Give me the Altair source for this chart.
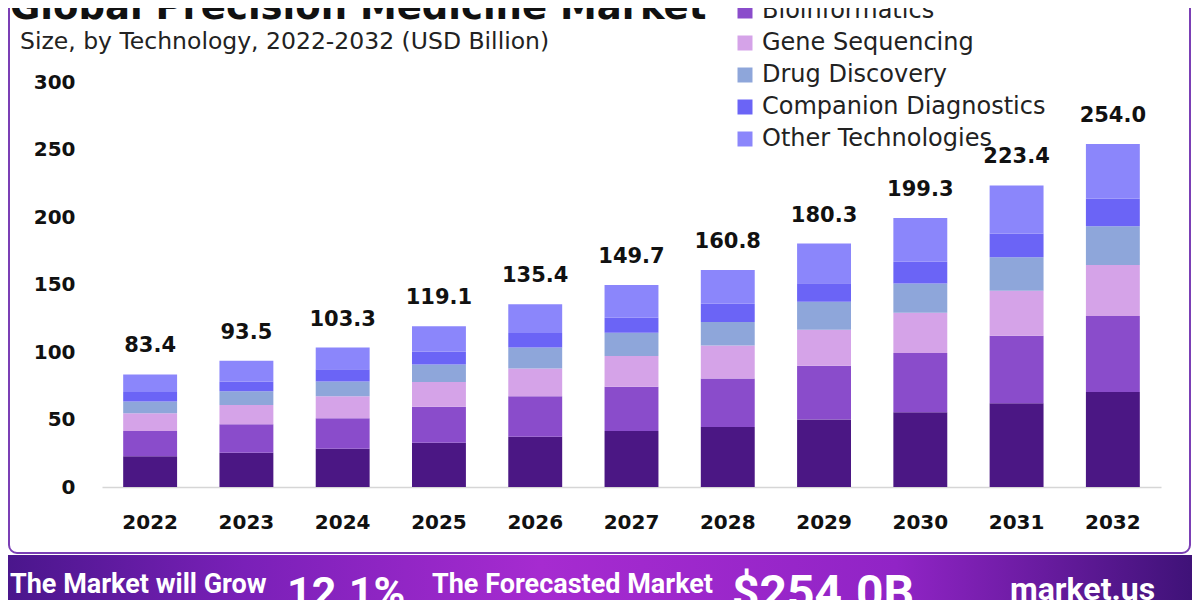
import altair as alt
import pandas as pd

# ---------------- data ----------------
years = ["2022", "2023", "2024", "2025", "2026", "2027", "2028", "2029", "2030", "2031", "2032"]
segments = ["Big Data Analytics", "Bioinformatics", "Gene Sequencing",
            "Drug Discovery", "Companion Diagnostics", "Other Technologies"]
colors = ["#4B1784", "#8A4CCB", "#D5A3E8", "#8EA6DA", "#6B64F6", "#8B86FB"]

big_data = [22.7, 25.3, 28.3, 32.8, 37.3, 41.4, 44.5, 50.0, 55.4, 62.1, 70.4]
bioinformatics = [18.8, 21.2, 22.7, 26.7, 30.0, 32.9, 35.8, 39.9, 43.8, 49.9, 56.3]
gene_sequencing = [13.1, 14.3, 16.3, 18.3, 20.5, 22.7, 24.5, 26.6, 29.8, 33.3, 37.8]
drug_discovery = [8.7, 10.2, 10.9, 13.0, 15.5, 17.2, 17.5, 20.7, 21.7, 24.9, 28.6]
companion_diag = [7.1, 7.2, 9.0, 9.5, 10.8, 11.2, 13.5, 13.7, 16.2, 17.5, 20.6]
other_tech = [13.0, 15.3, 16.1, 18.8, 21.3, 24.3, 25.0, 29.4, 32.4, 35.7, 40.3]
totals = [83.4, 93.5, 103.3, 119.1, 135.4, 149.7, 160.8, 180.3, 199.3, 223.4, 254.0]
y_ticks = [0, 50, 100, 150, 200, 250, 300]

title_text = "Global Precision Medicine Market"
subtitle_text = "Size, by Technology, 2022-2032 (USD Billion)"
banner_small = ["The Market will Grow", "The Forecasted Market"]
banner_big = ["12.1%", "$254.0B"]
brand = "market.us"

# ---------------- tables ----------------
series = [big_data, bioinformatics, gene_sequencing, drug_discovery, companion_diag, other_tech]
rows = []
for k, (name, vals) in enumerate(zip(segments, series)):
    for yr, v in zip(years, vals):
        rows.append({"year": yr, "segment": name, "value": v, "order": k})
df = pd.DataFrame(rows)
tot_df = pd.DataFrame({"year": years, "total": totals})
one = pd.DataFrame({"k": [0]})

NUM_FONT = "DejaVu Sans"
TXT_FONT = "DejaVu Sans"
BAN_FONT = "Roboto"

W, H = 1059, 405
SVG_W, SVG_H = 1184, 592
PAD_L, PAD_T = 94, 74

x_enc = alt.X("year:N", sort=years, title=None,
              scale=alt.Scale(paddingInner=0.44, paddingOuter=0.22),
              axis=alt.Axis(labelAngle=0, labelFont=NUM_FONT, labelFontSize=20,
                            labelFontWeight="bold", labelColor="#111111", ticks=False,
                            domainColor="#d6d6d6", domainWidth=1.5, labelPadding=25))

bars = alt.Chart(df).mark_bar().encode(
    x=x_enc,
    y=alt.Y("value:Q", stack="zero", title=None,
            scale=alt.Scale(domain=[0, 300], nice=False),
            axis=alt.Axis(values=y_ticks, grid=False, domain=False, ticks=False,
                          labelPadding=27, labelFont=NUM_FONT, labelFontSize=20,
                          labelFontWeight="bold", labelColor="#111111")),
    color=alt.Color("segment:N", scale=alt.Scale(domain=segments, range=colors),
                    legend=alt.Legend(title=None, orient="none", legendX=631, legendY=-115,
                                      symbolType="square", symbolSize=225, symbolStrokeWidth=0,
                                      labelFont=TXT_FONT, labelFontSize=24, labelColor="#222222",
                                      labelOffset=5, rowPadding=8, padding=0, labelLimit=400)),
    order=alt.Order("order:Q", sort="ascending"),
)

labels = alt.Chart(tot_df).mark_text(
    font=NUM_FONT, fontSize=21, fontWeight="bold", color="#111111",
    baseline="alphabetic", dy=-22,
).encode(x=alt.X("year:N", sort=years), y=alt.Y("total:Q"), text=alt.Text("total:Q", format=".1f"))

# frame and banner
frame = alt.Chart(one).mark_rect(
    fill="transparent", stroke="#7B3FB5", strokeWidth=2, cornerRadius=8
).encode(x=alt.value(-93), x2=alt.value(1088), y=alt.value(-120), y2=alt.value(471))

grad = alt.LinearGradient(
    gradient="linear", x1=0, x2=1, y1=0, y2=0,
    stops=[alt.GradientStop(color="#4A168C", offset=0),
           alt.GradientStop(color="#7A20B8", offset=0.2),
           alt.GradientStop(color="#A62BD0", offset=0.45),
           alt.GradientStop(color="#9124C6", offset=0.75),
           alt.GradientStop(color="#3F1278", offset=1)])
banner = alt.Chart(one).mark_rect(fill=grad).encode(
    x=alt.value(-94), x2=alt.value(1090), y=alt.value(473), y2=alt.value(560))

title = alt.Chart(one).mark_text(
    text=title_text, font=TXT_FONT, fontWeight="bold", fontSize=37, color="#111111",
    align="left", baseline="alphabetic").encode(x=alt.value(-92), y=alt.value(-63))
subtitle = alt.Chart(one).mark_text(
    text=subtitle_text, font=TXT_FONT, fontSize=23.5, color="#222222",
    align="left", baseline="alphabetic").encode(x=alt.value(-82), y=alt.value(-33))

b1 = alt.Chart(one).mark_text(text=banner_small[0], font=BAN_FONT, fontWeight="bold", fontSize=27,
                              color="white", align="left", baseline="alphabetic").encode(
    x=alt.value(-92), y=alt.value(511))
b2 = alt.Chart(one).mark_text(text=banner_big[0], font=BAN_FONT, fontWeight="bold", fontSize=43,
                              color="white", align="left", baseline="alphabetic").encode(
    x=alt.value(185), y=alt.value(525))
b3 = alt.Chart(one).mark_text(text=banner_small[1], font=BAN_FONT, fontWeight="bold", fontSize=27,
                              color="white", align="left", baseline="alphabetic").encode(
    x=alt.value(330), y=alt.value(511))
b4 = alt.Chart(one).mark_text(text=banner_big[1], font=BAN_FONT, fontWeight="bold", fontSize=48,
                              color="white", align="left", baseline="alphabetic").encode(
    x=alt.value(630), y=alt.value(527))
b5 = alt.Chart(one).mark_text(text=brand, font=BAN_FONT, fontWeight="bold", fontSize=32,
                              color="white", align="left", baseline="alphabetic").encode(
    x=alt.value(908), y=alt.value(518))

chart = alt.layer(frame, banner, bars, labels, title, subtitle, b1, b2, b3, b4, b5).properties(
    width=W, height=H,
    autosize=alt.AutoSizeParams(type="none"),
    padding={"left": PAD_L, "top": PAD_T, "right": SVG_W - PAD_L - W, "bottom": SVG_H - PAD_T - H},
    background="white",
).configure_view(strokeWidth=0)

chart.save("out.html", embed_options={"renderer": "svg", "actions": False})
